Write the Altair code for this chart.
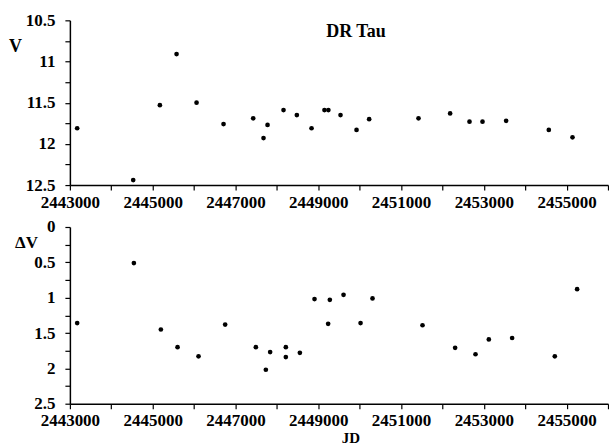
import altair as alt
import pandas as pd

# Top panel: V magnitude
jd_v = [2443176, 2444530, 2445174, 2445577, 2446060, 2446712, 2447428, 2447678,
        2447775, 2448161, 2448483, 2448838, 2449150, 2449245, 2449538, 2449925,
        2450230, 2451422, 2452186, 2452654, 2452968, 2453539, 2454570, 2455142]
v_mag = [11.81, 12.44, 11.53, 10.91, 11.50, 11.76, 11.69, 11.93,
         11.77, 11.59, 11.65, 11.81, 11.59, 11.59, 11.65, 11.83,
         11.70, 11.69, 11.63, 11.73, 11.73, 11.72, 11.83, 11.92]

# Bottom panel: Delta V
jd_dv = [2443176, 2444546, 2445198, 2445601, 2446108, 2446751, 2447493, 2447734,
         2447838, 2448217, 2448217, 2448556, 2448910, 2449239, 2449280, 2449611,
         2450022, 2450311, 2451519, 2452307, 2452799, 2453121, 2453684, 2454715,
         2455254]
dv_mag = [1.36, 0.51, 1.45, 1.70, 1.83, 1.38, 1.70, 2.02,
          1.77, 1.70, 1.84, 1.78, 1.02, 1.37, 1.03, 0.96,
          1.36, 1.01, 1.39, 1.71, 1.80, 1.59, 1.57, 1.83,
          0.88]

x_ticks = list(range(2443000, 2456001, 1000))
v_ticks = [10.5 + 0.25 * i for i in range(9)]
dv_ticks = [0.25 * i for i in range(11)]

df_v = pd.DataFrame({"JD": jd_v, "V": v_mag})
df_dv = pd.DataFrame({"JD": jd_dv, "dV": dv_mag})

FONT = "Liberation Serif"
W = 539

x_label_expr = "(datum.value - 2443000) % 2000 == 0 ? datum.label : ''"
y_label_expr = "(datum.value * 2) % 1 == 0 ? datum.label : ''"

common_axis = dict(
    domainColor="black", domainWidth=1.5, tickColor="black", tickWidth=1.2,
    tickSize=5, labelFont=FONT, labelFontWeight="bold", labelFontSize=17,
    labelColor="black", grid=False, labelOverlap=False, labelFlush=False,
    labelBound=False, titleFont=FONT, titleFontWeight="bold", titleColor="black",
)

top = alt.Chart(df_v).mark_circle(size=22, color="black", opacity=1).encode(
    x=alt.X("JD:Q", scale=alt.Scale(domain=[2443000, 2456000], nice=False, zero=False),
            axis=alt.Axis(values=x_ticks, format="d", labelExpr=x_label_expr,
                          title=None, labelPadding=4, **common_axis)),
    y=alt.Y("V:Q", scale=alt.Scale(domain=[10.5, 12.5], reverse=True, nice=False, zero=False),
            axis=alt.Axis(values=v_ticks, format="~g", labelExpr=y_label_expr, title="V",
                          titleAngle=0, titleX=-55, titleY=26, titleAlign="center",
                          titleBaseline="middle", titleFontSize=18,
                          labelPadding=10, **common_axis)),
).properties(
    width=W, height=165,
    title=alt.TitleParams("DR Tau", font=FONT, fontWeight="bold", fontSize=18,
                          color="black", anchor="middle", dx=17, offset=-30),
)

bottom = alt.Chart(df_dv).mark_circle(size=22, color="black", opacity=1).encode(
    x=alt.X("JD:Q", scale=alt.Scale(domain=[2443000, 2456000], nice=False, zero=False),
            axis=alt.Axis(values=x_ticks, format="d", labelExpr=x_label_expr,
                          title="JD", titleFontSize=15, titleX=281, titleY=34,
                          titleBaseline="middle", labelPadding=4, **common_axis)),
    y=alt.Y("dV:Q", scale=alt.Scale(domain=[0, 2.5], reverse=True, nice=False, zero=False),
            axis=alt.Axis(values=dv_ticks, format="~g", labelExpr=y_label_expr, title="ΔV",
                          titleAngle=0, titleX=-44, titleY=16, titleAlign="center",
                          titleBaseline="middle", titleFontSize=17,
                          labelPadding=10, **common_axis)),
).properties(width=W, height=177)

chart = alt.vconcat(top, bottom, spacing=42, bounds="flush").properties(
    padding={"left": 8, "top": 11, "right": 0, "bottom": 0},
    background="white",
).configure_view(stroke=None).configure_axis(
    labelFont=FONT, titleFont=FONT
).configure_title(font=FONT)

chart.save("out.html", embed_options={"renderer": "svg", "actions": False})
